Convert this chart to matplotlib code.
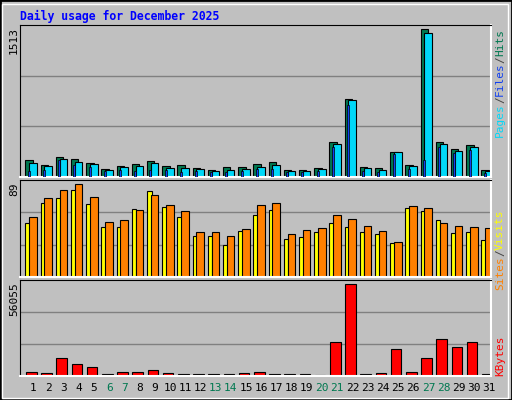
import matplotlib
matplotlib.use("Agg")
import matplotlib.pyplot as plt
from matplotlib.patches import Rectangle
import numpy as np

days = list(range(1, 32))
weekend = [6, 7, 13, 14, 20, 21, 27, 28]
hits = [170,119,201,180,140,78,109,129,160,109,119,89,68,99,99,129,150,68,68,89,354,794,99,89,252,119,1513,354,283,323,68]
files = [146,109,180,157,129,68,99,109,146,89,89,78,58,68,78,99,119,58,58,78,334,783,89,68,252,109,1468,340,262,303,58]
pages = [58,68,170,119,99,58,68,58,68,68,48,58,48,48,58,78,78,48,48,58,303,732,58,48,232,78,170,303,242,272,37]
sites = [52,71,76,83,70,48,48,65,82,67,58,39,39,31,44,59,64,36,38,43,52,48,43,41,33,66,63,55,42,43,35]
visits = [58,76,83,89,77,53,55,64,79,69,63,43,43,39,46,69,71,41,45,47,59,56,49,44,34,68,66,52,49,48,47]
kbytes = [2660,2045,11250,7570,5730,1430,2660,2660,3890,2045,1430,1430,1430,1430,2045,2660,1430,1430,1430,820,21070,56055,1430,2045,16770,2660,11250,22900,18000,21070,1430]
max_hits, max_visits, max_kb = "1513", "89", "56055"

W, H = 512, 400
fig = plt.figure(figsize=(W/100, H/100), dpi=100)
fig.patch.set_facecolor("#c0c0c0")
fig.add_artist(Rectangle((0, 0), 1, 1, transform=fig.transFigure, fill=False, ec="black", lw=2))
fig.add_artist(Rectangle((2/W, 2/H), 1-6/W, 1-6/H, transform=fig.transFigure, fill=False, ec="white", lw=1))
mono = "DejaVu Sans Mono"
fig.text(20/W, 1-16/H, "Daily usage for December 2025", color="#0000ff", fontsize=8.3,
         fontweight="bold", family=mono, va="center")

x = np.array(days, dtype=float)
xl = (0.125, 31.11)

def panel(top, bot):
    ax = fig.add_axes([20/W, 1-bot/H, 471/W, (bot-top)/H])
    ax.set_facecolor("#c0c0c0")
    ax.set_xlim(*xl)
    ax.set_xticks([]); ax.set_yticks([])
    for s in ["left", "top"]:
        ax.spines[s].set_color("black")
    for s in ["right", "bottom"]:
        ax.spines[s].set_color("white"); ax.spines[s].set_linewidth(1.5)
    return ax

def grids(ax, ymax):
    ax.set_ylim(0, ymax)
    for f in (1/3, 2/3):
        ax.axhline(ymax*f, color="#808080", lw=1, zorder=0)

kw = dict(edgecolor="black", linewidth=0.8, align="center", zorder=2)
ax1 = panel(25, 177)
grids(ax1, 1553)
ax1.bar(x-0.28, hits, 0.49, color="#007850", **kw)
ax1.bar(x-0.30, pages, 0.13, color="#1040f0", edgecolor="black", linewidth=0.5, zorder=3)
ax1.bar(x-0.02, files, 0.49, color="#00d8f8", **kw)

ax2 = panel(180, 277)
grids(ax2, 93)
ax2.bar(x-0.37, sites, 0.31, color="#ffff00", **kw)
ax2.bar(x-0.02, visits, 0.49, color="#ff8000", **kw)

ax3 = panel(280, 376)
grids(ax3, 58700)
ax3.bar(x-0.13, kbytes, 0.70, color="#ff0000", **kw)

for val, ytop in [(max_hits, 27), (max_visits, 182), (max_kb, 282)]:
    fig.text(14/W, 1-ytop/H, val, rotation=90, fontsize=8, family=mono, va="top", ha="center")

for d in days:
    xp = (20 + (d - xl[0]) / (xl[1]-xl[0]) * 471) / W
    fig.text(xp, 1-388/H, str(d), ha="center", va="center", fontsize=8, family=mono,
             color="#007850" if d in weekend else "black")

renderer = fig.canvas.get_renderer()
def vlabel(parts, ybottom):
    y = ybottom
    for t, c in parts:
        tx = fig.text(500/W, 1-y/H, t, rotation=90, color=c, fontsize=8, family=mono,
                      ha="center", va="bottom")
        ext = tx.get_window_extent(renderer)
        y -= ext.height
vlabel([("Pages", "#00d8f8"), ("/", "#404040"), ("Files", "#1040f0"), ("/", "#404040"), ("Hits", "#007850")], 137)
vlabel([("Sites", "#ff8000"), ("/", "#404040"), ("Visits", "#ffff00")], 290)
vlabel([("KBytes", "#ff0000")], 376)

fig.savefig("out.png", dpi=100, facecolor=fig.get_facecolor())
